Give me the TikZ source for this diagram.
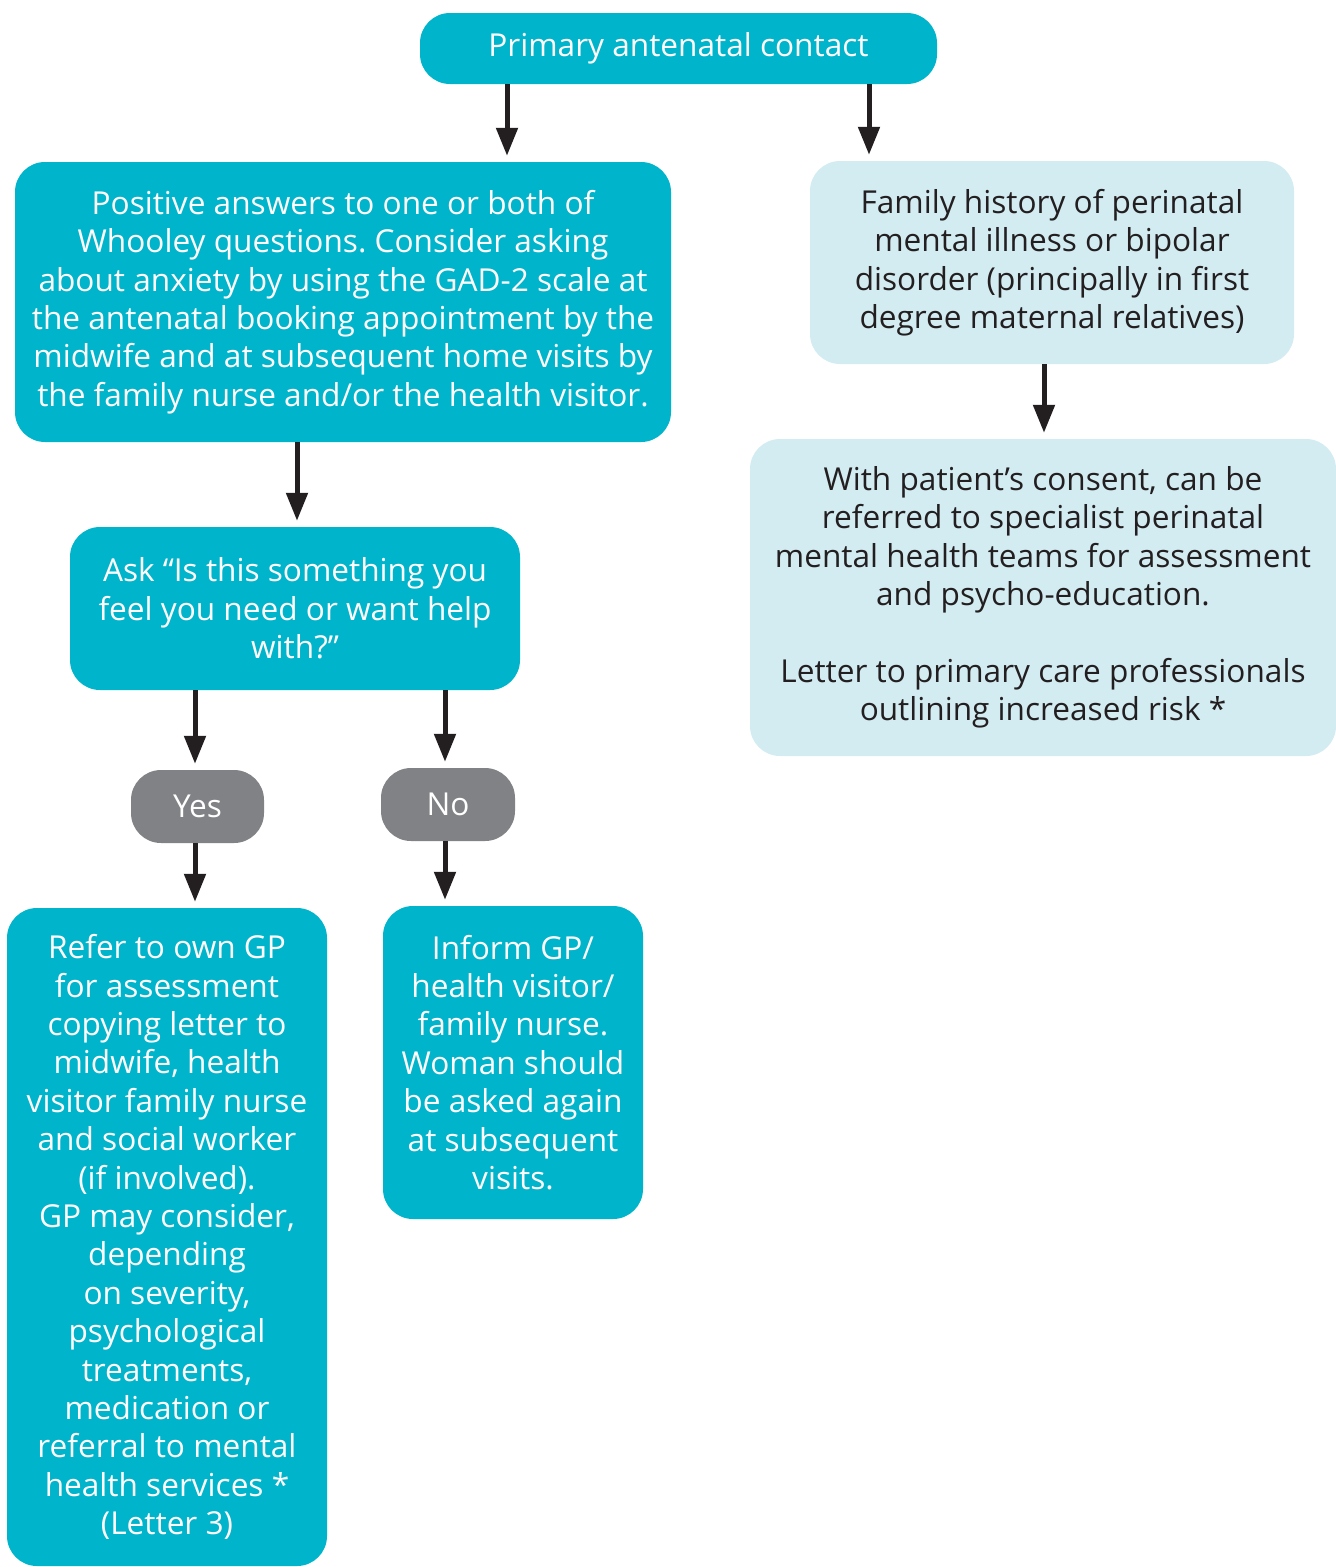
\documentclass[tikz,border=0pt]{standalone}
\usepackage{fontspec}
\setmainfont{Open Sans}
\usetikzlibrary{arrows.meta}
\definecolor{teal}{HTML}{00B4CB}
\definecolor{lightb}{HTML}{D3ECF2}
\definecolor{greybox}{HTML}{808285}
\definecolor{ink}{HTML}{231F20}
\frenchspacing
\tikzset{
  base/.style={rectangle, rounded corners=30pt, inner sep=0pt, align=center,
    font=\fontsize{31.6}{38.4}\selectfont},
  tealbox/.style={base, fill=teal, text=white},
  lightbox/.style={base, fill=lightb, text=ink},
  greyb/.style={base, fill=greybox, text=white},
  arr/.style={draw=ink, line width=5pt, -{Triangle[length=28pt,width=21pt]}, shorten >=6pt}
}
\begin{document}
\begin{tikzpicture}[x=1pt,y=1pt]
\useasboundingbox (0,0) rectangle (1336,-1567);
\node[tealbox, minimum width=517pt, minimum height=71pt] (top) at (678.5,-48.5) {Primary antenatal contact};
\node[tealbox, minimum width=656pt, minimum height=280pt] (A) at (343,-302) {Positive answers to one or both of\\Whooley questions. Consider asking\\about anxiety by using the GAD-2 scale at\\the antenatal booking appointment by the\\midwife and at subsequent home visits by\\the family nurse and/or the health visitor.};
\node[lightbox, minimum width=484pt, minimum height=203pt] (B) at (1052,-262.5) {Family history of perinatal\\mental illness or bipolar\\disorder (principally in first\\degree maternal relatives)};
\node[lightbox, minimum width=586pt, minimum height=317pt] (C) at (1043,-597.5) {With patient’s consent, can be\\referred to specialist perinatal\\mental health teams for assessment\\and psycho-education.\\[38.4pt]Letter to primary care professionals\\outlining increased risk *};
\node[tealbox, minimum width=450pt, minimum height=163pt] (D) at (295,-608.5) {Ask “Is this something you\\feel you need or want help\\with?”};
\node[greyb, minimum width=133pt, minimum height=73pt] (yes) at (197.5,-806.5) {Yes};
\node[greyb, minimum width=134pt, minimum height=73pt] (no) at (448,-804.5) {No};
\node[tealbox, minimum width=320pt, minimum height=658pt] (E) at (167,-1237) {Refer to own GP\\for assessment\\copying letter to\\midwife, health\\visitor family nurse\\and social worker\\(if involved).\\GP may consider,\\depending\\on severity,\\psychological\\treatments,\\medication or\\referral to mental\\health services *\\(Letter 3)};
\node[tealbox, minimum width=260pt, minimum height=313pt] (F) at (513,-1062.5) {Inform GP/\\health visitor/\\family nurse.\\Woman should\\be asked again\\at subsequent\\visits.};
\draw[arr] ([xshift=-171.5pt]top.south) -- ([xshift=-171.5pt]top.south |- A.north);
\draw[arr] ([xshift=190.5pt]top.south) -- ([xshift=190.5pt]top.south |- B.north);
\draw[arr] ([xshift=-8pt]B.south) -- ([xshift=-8pt]B.south |- C.north);
\draw[arr] ([xshift=-46pt]A.south) -- ([xshift=-46pt]A.south |- D.north);
\draw[arr] ([xshift=-100pt]D.south) -- ([xshift=-100pt]D.south |- yes.north);
\draw[arr] ([xshift=150pt]D.south) -- ([xshift=150pt]D.south |- no.north);
\draw[arr] ([xshift=-2.5pt]yes.south) -- ([xshift=-2.5pt]yes.south |- E.north);
\draw[arr] ([xshift=-3pt]no.south) -- ([xshift=-3pt]no.south |- F.north);
\end{tikzpicture}
\end{document}
